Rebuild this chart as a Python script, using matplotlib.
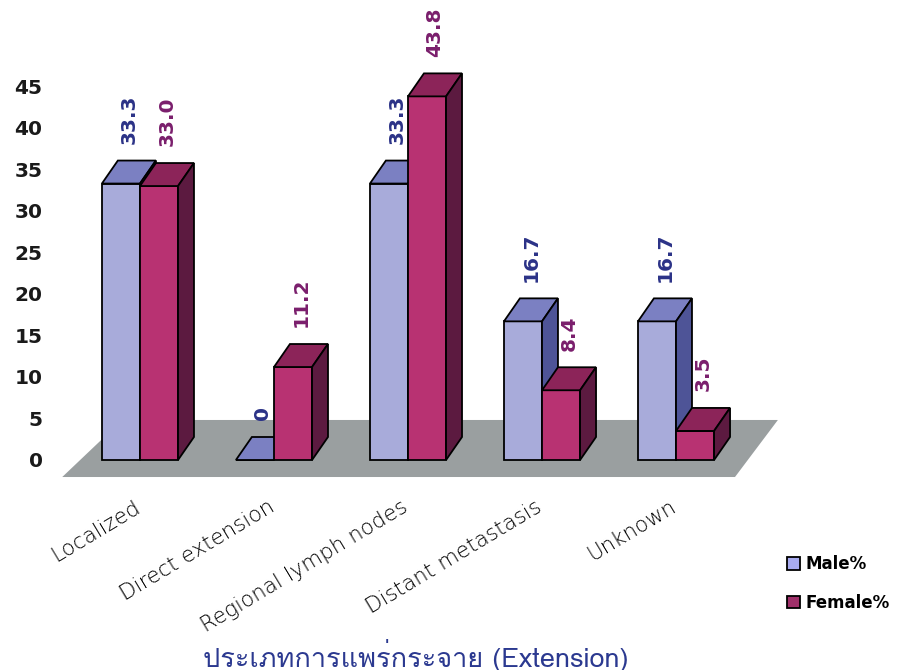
import matplotlib
matplotlib.use("Agg")
import matplotlib.pyplot as plt
from matplotlib.patches import Polygon, Patch
from matplotlib import font_manager, ft2font

categories = ["Localized", "Direct extension", "Regional lymph nodes",
              "Distant metastasis", "Unknown"]
male = [33.3, 0, 33.3, 16.7, 16.7]
female = [33.0, 11.2, 43.8, 8.4, 3.5]
male_labels = ["33.3", "0", "33.3", "16.7", "16.7"]
female_labels = ["33.0", "11.2", "43.8", "8.4", "3.5"]
yticks = [0, 5, 10, 15, 20, 25, 30, 35, 40, 45]
xlabel = "ประเภทการแพร่กระจาย (Extension)"


def thai_font():
    # look for any installed font that has thai glyphs
    for f in font_manager.fontManager.ttflist:
        try:
            cmap = ft2font.FT2Font(f.fname).get_charmap()
        except Exception:
            continue
        if 0x0E1B in cmap and 0x0E23 in cmap:
            return f.name
    return "DejaVu Sans"


TH = thai_font()

# colours: front, top, side
male_c = ("#a8abda", "#7b80c2", "#4e5497")
female_c = ("#b83272", "#8c2459", "#5c1a40")
floor_c = "#9a9fa0"

fig = plt.figure(figsize=(9, 6.7), dpi=100)
ax = fig.add_axes([55/900, 1-480/670, 745/900, 460/670])
ax.set_xlim(-0.634, 4.925)
ax.set_ylim(-2.41, 53.0)

w = 0.284      # bar width
dx = 0.119     # depth offset x
dy = 2.77      # depth offset y

# floor
n = len(categories)
fx0, fx1 = -0.58, n - 1 + 0.44
fy0, fy1 = -2.05, 4.82
fdx = 0.32
ax.add_patch(Polygon([(fx0, fy0), (fx1, fy0), (fx1 + fdx, fy1), (fx0 + fdx*1.4, fy1)],
                     closed=True, facecolor=floor_c, edgecolor="none", zorder=1))


def bar3d(x0, h, cols, z):
    ax.bar(x0, h, width=w, align="edge", color=cols[0], edgecolor="black",
           linewidth=1.3, zorder=z)
    top = [(x0, h), (x0 + w, h), (x0 + w + dx, h + dy), (x0 + dx, h + dy)]
    ax.add_patch(Polygon(top, closed=True, facecolor=cols[1], edgecolor="black",
                         linewidth=1.3, zorder=z))
    if h > 0:
        side = [(x0 + w, 0), (x0 + w + dx, dy), (x0 + w + dx, h + dy), (x0 + w, h)]
        ax.add_patch(Polygon(side, closed=True, facecolor=cols[2], edgecolor="black",
                             linewidth=1.3, zorder=z))


for i in range(n):
    bar3d(i - w, male[i], male_c, 3 + 2*i)
    bar3d(i, female[i], female_c, 4 + 2*i)
    ax.annotate(male_labels[i], xy=(i - w/2 + dx/2, male[i] + dy), xytext=(0, 12),
                textcoords="offset points", rotation=90, ha="center", va="bottom",
                fontsize=14.5, fontweight="bold", color="#2b3287", zorder=20)
    ax.annotate(female_labels[i], xy=(i + w/2 + dx/2, female[i] + dy), xytext=(0, 12),
                textcoords="offset points", rotation=90, ha="center", va="bottom",
                fontsize=14.5, fontweight="bold", color="#7a1e6c", zorder=20)
    ax.text(i - 0.05, -4.4, categories[i], rotation=31, rotation_mode="anchor",
            ha="right", va="top", fontsize=15.5, fontweight="light", color="black")

ax.set_yticks(yticks)
ax.set_yticklabels([str(t) for t in yticks], fontsize=14.5, fontweight="bold",
                   color="#1a1a1a")
ax.tick_params(axis="y", length=0, pad=9)
ax.set_xticks([])
for s in ax.spines.values():
    s.set_visible(False)

handles = [Patch(facecolor="#a8abf0", edgecolor="black", linewidth=1.3),
           Patch(facecolor="#a0306a", edgecolor="black", linewidth=1.3)]
fig.legend(handles, ["Male%", "Female%"], loc="upper left",
           bbox_to_anchor=(772/900, 1 - 540/670), frameon=False,
           prop={"weight": "bold", "size": 12}, handlelength=0.8,
           handleheight=0.8, handletextpad=0.3, labelspacing=1.25)

fig.text(0.462, 1 - 655/670, xlabel, ha="center", va="center", fontsize=19.5,
         color="#2b3990", family=[TH, "DejaVu Sans"])

fig.savefig("out.png", dpi=100)
